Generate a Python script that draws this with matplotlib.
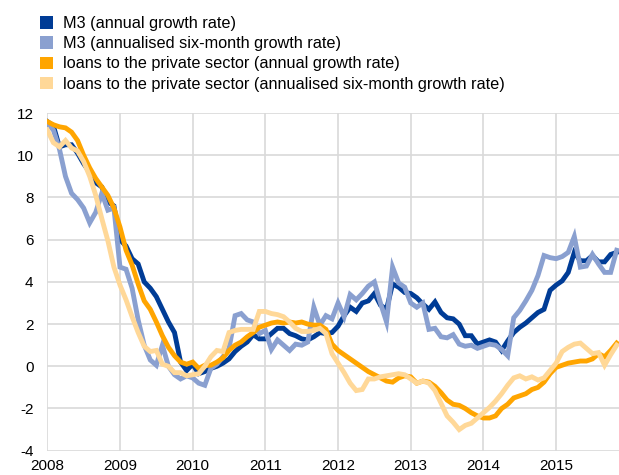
import numpy as np
import matplotlib
matplotlib.use("Agg")
import matplotlib.pyplot as plt
from matplotlib.patches import Patch

plt.rcParams['font.family'] = ['Liberation Sans', 'DejaVu Sans']
plt.rcParams['axes.unicode_minus'] = False

start_year = 2008
year_ticks = [2008, 2009, 2010, 2011, 2012, 2013, 2014, 2015]
y_ticks = [-4, -2, 0, 2, 4, 6, 8, 10, 12]

labels = [
    "M3 (annual growth rate)",
    "M3 (annualised six-month growth rate)",
    "loans to the private sector (annual growth rate)",
    "loans to the private sector (annualised six-month growth rate)",
]

# monthly values, Jan 2008 - Nov 2015
m3_annual = [
    11.6, 11.4, 10.4, 10.5, 10.5, 10.1, 9.6, 9.2, 8.7, 8.5, 7.8, 7.6,
    6.0, 5.7, 5.1, 4.85, 4.0, 3.7, 3.3, 2.7, 2.1, 1.6, 0.2, -0.2,
    0.1, -0.35, -0.25, -0.1, 0.0, 0.15, 0.35, 0.7, 0.95, 1.15, 1.5, 1.3,
    1.3, 1.55, 1.8, 1.8, 1.55, 1.45, 1.3, 1.25, 1.4, 1.6, 1.55, 1.6,
    1.9, 2.4, 2.8, 2.6, 3.0, 3.1, 3.45, 2.9, 2.7, 3.9, 3.75, 3.5,
    3.45, 3.25, 2.95, 2.7, 3.05, 2.55, 2.3, 2.25, 2.0, 1.45, 1.45, 1.05,
    1.15, 1.25, 1.15, 0.75, 1.2, 1.6, 1.85, 2.05, 2.3, 2.55, 2.7, 3.6,
    3.85, 4.05, 4.45, 5.4, 5.0, 5.0, 5.25, 4.95, 4.95, 5.3, 5.4,
]

m3_six_month = [
    11.5, 11.2, 10.3, 9.0, 8.2, 7.9, 7.5, 6.8, 7.3, 8.2, 7.4, 7.5,
    4.7, 4.6, 3.7, 2.2, 1.0, 0.3, 0.05, 1.0, 0.0, -0.4, -0.6, -0.45,
    -0.55, -0.8, -0.9, -0.1, 0.1, 0.45, 0.85, 2.4, 2.5, 2.2, 2.1, 1.55,
    1.7, 0.8, 1.25, 1.0, 0.75, 1.05, 1.0, 1.15, 2.8, 1.95, 2.4, 2.25,
    3.0, 2.35, 3.4, 3.15, 3.45, 3.8, 4.0, 3.0, 2.1, 4.7, 3.95, 3.75,
    3.0, 2.8, 3.0, 1.75, 1.8, 1.4, 1.35, 1.5, 1.05, 0.95, 1.0, 0.85,
    0.95, 1.05, 1.0, 0.8, 0.5, 2.3, 2.65, 3.1, 3.6, 4.3, 5.25, 5.15,
    5.1, 5.2, 5.4, 6.15, 4.7, 4.75, 5.3, 4.85, 4.45, 4.45, 5.5,
]

loans_annual = [
    11.6, 11.45, 11.35, 11.3, 11.1, 10.7, 10.0, 9.4, 8.9, 8.5, 8.1, 7.5,
    6.6, 5.5, 4.8, 3.9, 3.1, 2.7, 2.1, 1.45, 0.9, 0.5, 0.2, 0.1,
    0.2, -0.1, 0.05, 0.05, 0.2, 0.4, 0.75, 1.0, 1.15, 1.4, 1.6, 1.85,
    1.95, 2.05, 2.1, 2.05, 2.1, 2.05, 2.1, 2.0, 1.95, 1.95, 1.75, 1.05,
    0.75, 0.55, 0.35, 0.15, -0.05, -0.25, -0.4, -0.55, -0.7, -0.75, -0.55, -0.45,
    -0.5, -0.8, -0.7, -0.75, -0.95, -1.25, -1.6, -1.8, -1.85, -2.0, -2.2, -2.35,
    -2.45, -2.45, -2.35, -2.0, -1.8, -1.5, -1.4, -1.3, -1.1, -1.0, -0.75, -0.35,
    -0.05, 0.05, 0.15, 0.2, 0.25, 0.25, 0.35, 0.6, 0.45, 0.75, 1.1,
]

loans_six_month = [
    11.2, 10.6, 10.4, 10.7, 10.35, 10.2, 9.7, 9.0, 8.1, 7.0, 5.95, 4.7,
    3.85, 3.15, 2.35, 1.6, 0.95, 0.7, 0.75, 0.1, 0.0, -0.3, -0.3, -0.45,
    -0.4, -0.35, 0.0, 0.45, 0.75, 0.7, 1.6, 1.7, 1.75, 1.75, 1.75, 2.6,
    2.6, 2.5, 2.45, 2.35, 2.1, 1.8, 1.65, 1.65, 1.7, 1.8, 1.55, 0.6,
    0.15, -0.3, -0.8, -1.15, -1.1, -0.6, -0.6, -0.5, -0.45, -0.4, -0.35, -0.4,
    -0.6, -0.8, -0.7, -0.8, -1.15, -1.75, -2.35, -2.65, -3.0, -2.8, -2.7, -2.45,
    -2.2, -1.95, -1.65, -1.3, -0.9, -0.55, -0.45, -0.6, -0.5, -0.65, -0.55, -0.2,
    0.15, 0.7, 0.9, 1.05, 1.1, 0.85, 0.6, 0.65, 0.05, 0.55, 1.0,
]

colors = ["#003c96", "#8aa0d0", "#ffa500", "#ffd898"]
series = [m3_annual, m3_six_month, loans_annual, loans_six_month]

x = start_year + np.arange(len(m3_annual)) / 12.0

fig = plt.figure(figsize=(6.19, 4.75), dpi=100)
ax = fig.add_axes([47.3 / 619, (475 - 450.7) / 475, 1 - 47.3 / 619, (450.7 - 113.1) / 475])

for vals, c in zip(series, colors):
    ax.plot(x, vals, color=c, linewidth=3.5, solid_joinstyle='miter', zorder=3)

ax.set_xlim(2008, 2015.865)
ax.set_ylim(-4, 12)
ax.set_xticks(year_ticks)
ax.set_xticklabels([str(y) for y in year_ticks])
ax.set_yticks(y_ticks)
ax.grid(True, color="#d9d9d9", linewidth=1.2, zorder=0)
for s in ax.spines.values():
    s.set_visible(False)
ax.tick_params(axis='both', length=0, labelsize=11, colors="#000000")
ax.tick_params(axis='y', pad=10)
ax.tick_params(axis='x', pad=6)

handles = [Patch(facecolor=c, edgecolor='none') for c in colors]
fig.legend(handles, labels, loc='upper left', bbox_to_anchor=(40 / 619, 1 - 16 / 475),
           bbox_transform=fig.transFigure, frameon=False, fontsize=11.7,
           handlelength=0.78, handleheight=0.8, handletextpad=0.62,
           labelspacing=0.32, borderpad=0, borderaxespad=0)

fig.savefig("out.png", dpi=100)
